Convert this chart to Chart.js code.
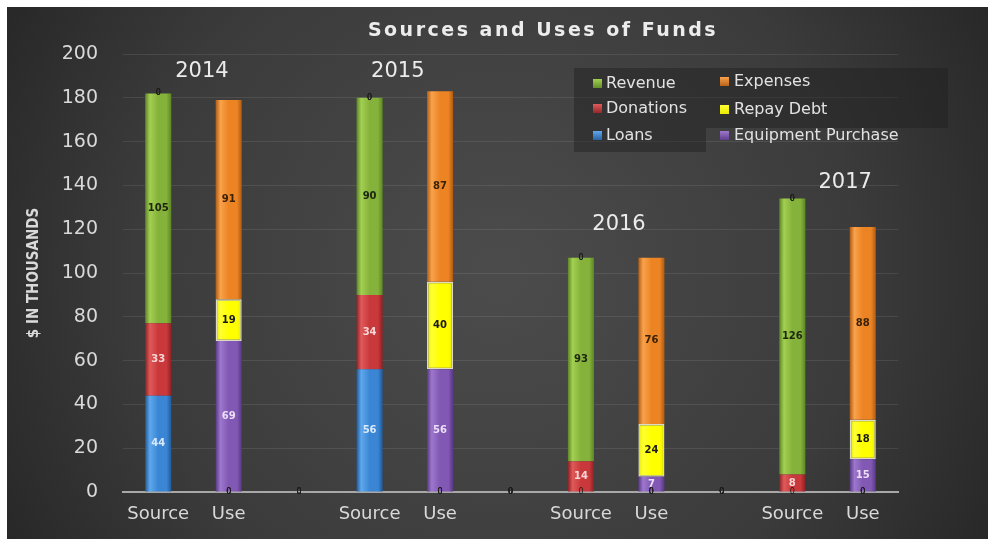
<!DOCTYPE html>
<html>
<head>
<meta charset="utf-8">
<script src="https://cdn.jsdelivr.net/npm/chart.js@4/dist/chart.umd.min.js"></script>
<style>
    html, body { margin: 0; padding: 0; background: #ffffff; }
    #wrap { position: absolute; left: 7px; top: 7px; width: 981px; height: 532px; }
</style>
</head>
<body>
<div id="wrap"><canvas id="fundsChart" width="981" height="532"></canvas></div>
<script>
const categories = ['Source', 'Use', '', 'Source', 'Use', '', 'Source', 'Use', '', 'Source', 'Use'];
const loans     = [44, 0, 0, 56, 0, 0, 0, 0, 0, 0, 0];
const donations = [33, 0, 0, 34, 0, 0, 14, 0, 0, 8, 0];
const revenue   = [105, 0, 0, 90, 0, 0, 93, 0, 0, 126, 0];
const equipment = [0, 69, 0, 0, 56, 0, 0, 7, 0, 0, 15];
const repayDebt = [0, 19, 0, 0, 40, 0, 0, 24, 0, 0, 18];
const expenses  = [0, 91, 0, 0, 87, 0, 0, 76, 0, 0, 88];

const yearLabels = ['2014', '2015', '2016', '2017'];
const yearAt     = [0.62, 3.4, 6.54, 9.75];   // position on the category axis
const yearValue  = [192, 192, 122, 141.5];    // height on the value axis

const yTicks = [0, 20, 40, 60, 80, 100, 120, 140, 160, 180, 200];

const BAR_SHARE = 0.37;
const FONT = '"DejaVu Sans", "Open Sans", sans-serif';

// 3D-ish look: horizontal gradient across each bar
function barFill(base, light, dark) {
    return (ctx) => {
        const chart = ctx.chart;
        const xs = chart.scales && chart.scales.x;
        if (!chart.chartArea || !xs || ctx.dataIndex === undefined) return base;
        const cx = xs.getPixelForValue(ctx.dataIndex);
        const half = xs.width / categories.length * BAR_SHARE / 2;
        const g = chart.ctx.createLinearGradient(cx - half, 0, cx + half, 0);
        g.addColorStop(0, dark);
        g.addColorStop(0.18, light);
        g.addColorStop(0.5, base);
        g.addColorStop(0.82, base);
        g.addColorStop(1, dark);
        return g;
    };
}

const series = [
    { label: 'Loans', data: loans, base: '#3a86d4', light: '#5ea8ee', dark: '#225a96', text: '#d8e9fb' },
    { label: 'Donations', data: donations, base: '#c9383a', light: '#e05a5a', dark: '#8c2225', text: '#f7d6d6' },
    { label: 'Revenue', data: revenue, base: '#85b23a', light: '#a3cf52', dark: '#5c8726', text: '#1c2610' },
    { label: 'Equipment Purchase', data: equipment, base: '#8158b3', light: '#9d77cd', dark: '#583885', text: '#ecdff7' },
    { label: 'Repay Debt', data: repayDebt, base: '#ffff00', light: '#ffff33', dark: '#e8e800', text: '#1a1a1a' },
    { label: 'Expenses', data: expenses, base: '#ec8424', light: '#f9a24c', dark: '#b05c12', text: '#3a2208' }
];

const backgroundPlugin = {
    id: 'background',
    beforeDraw(chart) {
        const { ctx, width, height } = chart;
        const g = ctx.createRadialGradient(width * 0.5, height * 0.5, 20, width * 0.5, height * 0.5, width * 0.6);
        g.addColorStop(0, '#4b4b4b');
        g.addColorStop(0.6, '#3b3b3b');
        g.addColorStop(1, '#252525');
        ctx.save();
        ctx.fillStyle = g;
        ctx.fillRect(0, 0, width, height);
        ctx.restore();
    }
};

const titlePlugin = {
    id: 'fundsTitle',
    afterDraw(chart) {
        const ctx = chart.ctx;
        ctx.save();
        ctx.font = 'bold 19px ' + FONT;
        ctx.letterSpacing = '2.5px';
        ctx.fillStyle = '#ececec';
        ctx.textAlign = 'center';
        ctx.textBaseline = 'middle';
        ctx.fillText('Sources and Uses of Funds', 536, 24);
        ctx.restore();
    }
};

const dataLabelPlugin = {
    id: 'segmentLabels',
    afterDatasetsDraw(chart) {
        const ctx = chart.ctx;
        ctx.save();
        ctx.textAlign = 'center';
        ctx.textBaseline = 'middle';
        chart.data.datasets.forEach((ds, i) => {
            const meta = chart.getDatasetMeta(i);
            meta.data.forEach((bar, j) => {
                const v = ds.data[j];
                if (v === 0) {
                    ctx.font = '8px ' + FONT;
                    ctx.fillStyle = '#1e1e1e';
                } else {
                    ctx.font = 'bold 10px ' + FONT;
                    ctx.fillStyle = series[i].text;
                }
                ctx.fillText(String(v), bar.x, (bar.y + bar.base) / 2);
            });
        });
        ctx.restore();
    }
};

const yearPlugin = {
    id: 'yearLabels',
    afterDatasetsDraw(chart) {
        const { ctx, scales: { x, y } } = chart;
        ctx.save();
        ctx.font = '21px ' + FONT;
        ctx.fillStyle = '#ebebeb';
        ctx.textAlign = 'center';
        ctx.textBaseline = 'middle';
        yearLabels.forEach((yr, i) => {
            ctx.fillText(yr, x.getPixelForValue(yearAt[i]), y.getPixelForValue(yearValue[i]));
        });
        ctx.restore();
    }
};

const legendPlugin = {
    id: 'boxLegend',
    afterDraw(chart) {
        const ctx = chart.ctx;
        const byLabel = {};
        series.forEach(s => { byLabel[s.label] = s; });
        const cols = [
            { box: [567, 61, 132, 84], markX: 586, textX: 599, rows: [['Revenue', 77], ['Donations', 102], ['Loans', 129]] },
            { box: [699, 61, 242, 60], markX: 713, textX: 727, rows: [['Expenses', 75], ['Repay Debt', 103], ['Equipment Purchase', 129]] }
        ];
        ctx.save();
        cols.forEach(c => {
            ctx.fillStyle = 'rgba(30, 30, 30, 0.45)';
            ctx.fillRect(c.box[0], c.box[1], c.box[2], c.box[3]);
        });
        ctx.font = '16px ' + FONT;
        ctx.textAlign = 'left';
        ctx.textBaseline = 'middle';
        cols.forEach(c => {
            c.rows.forEach(([name, yy]) => {
                const s = byLabel[name];
                const g = ctx.createLinearGradient(0, yy - 5, 0, yy + 5);
                g.addColorStop(0, s.light);
                g.addColorStop(1, s.dark);
                ctx.fillStyle = g;
                ctx.fillRect(c.markX, yy - 5, 9, 9);
                ctx.fillStyle = '#e2e2e2';
                ctx.fillText(name, c.textX, yy);
            });
        });
        ctx.restore();
    }
};

const ctx = document.getElementById('fundsChart').getContext('2d');

new Chart(ctx, {
    type: 'bar',
    data: {
        labels: categories,
        datasets: series.map(s => ({
            label: s.label,
            data: s.data,
            backgroundColor: barFill(s.base, s.light, s.dark),
            borderColor: s.label === 'Repay Debt' ? '#dcdcc4' : 'rgba(0,0,0,0)',
            borderWidth: s.label === 'Repay Debt' ? 1.5 : 0,
            borderSkipped: false,
            barPercentage: BAR_SHARE,
            categoryPercentage: 1
        }))
    },
    options: {
        responsive: false,
        animation: false,
        layout: { padding: { top: 47, right: 90, left: 0, bottom: 0 } },
        plugins: {
            legend: { display: false },
            title: { display: false },
            tooltip: { enabled: false }
        },
        scales: {
            x: {
                stacked: true,
                grid: { display: false },
                border: { display: true, color: '#a8a8a8', width: 2 },
                ticks: {
                    color: '#d9d9d9',
                    font: { family: FONT, size: 18 },
                    padding: 4,
                    maxRotation: 0,
                    autoSkip: false
                },
                afterFit: (s) => { s.height = 47; }
            },
            y: {
                stacked: true,
                min: 0,
                max: 200,
                afterBuildTicks: (s) => { s.ticks = yTicks.map(v => ({ value: v })); },
                grid: { color: 'rgba(255,255,255,0.09)', drawTicks: false },
                border: { display: false },
                ticks: {
                    color: '#d9d9d9',
                    font: { family: FONT, size: 19 },
                    padding: 25
                },
                title: {
                    display: true,
                    text: '$ IN THOUSANDS',
                    color: '#d9d9d9',
                    font: { family: '"DejaVu Sans Condensed", "Liberation Sans Narrow", ' + FONT, size: 15, weight: 'bold' },
                    padding: { top: 18, bottom: 0 }
                },
                afterFit: (s) => { s.width = 116; }
            }
        }
    },
    plugins: [backgroundPlugin, dataLabelPlugin, yearPlugin, legendPlugin, titlePlugin]
});
</script>
</body>
</html>
